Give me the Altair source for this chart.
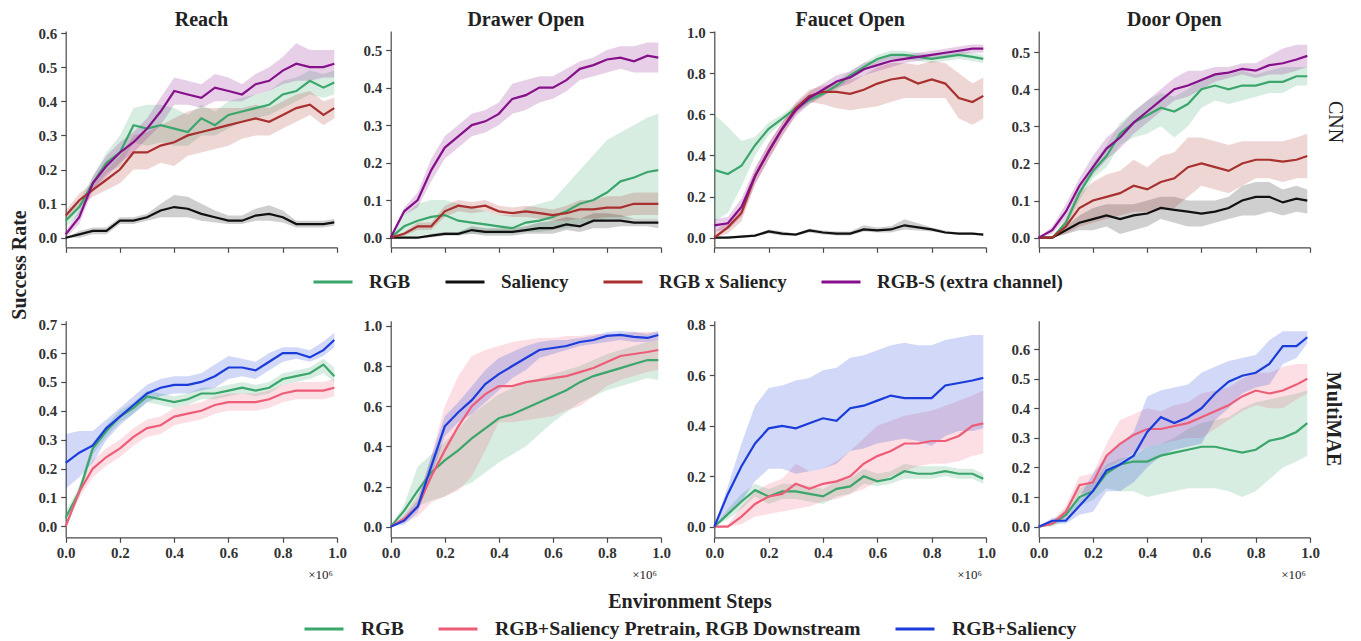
import altair as alt
import pandas as pd

# ---------------- data ----------------
X = [0.0, 0.05, 0.1, 0.15, 0.2, 0.25, 0.3, 0.35, 0.4, 0.45, 0.5,
     0.55, 0.6, 0.65, 0.7, 0.75, 0.8, 0.85, 0.9, 0.95, 0.99]

TASKS = ["Reach", "Drawer Open", "Faucet Open", "Door Open"]
ROWS = ["CNN", "MultiMAE"]
CNN_SERIES = ["RGB", "Saliency", "RGB x Saliency", "RGB-S (extra channel)"]
CNN_COLORS = ["#3BA66B", "#111111", "#A8302E", "#86108A"]
MAE_SERIES = ["RGB", "RGB+Saliency Pretrain, RGB Downstream", "RGB+Saliency"]
MAE_COLORS = ["#3BA66B", "#EE5D78", "#1B3CDB"]

X_TICKS = [0.0, 0.2, 0.4, 0.6, 0.8, 1.0]
TOP_YDOM = [[-0.028, 0.606], [-0.026, 0.551], [-0.047, 1.006], [-0.026, 0.557]]
BOT_YDOM = [[-0.038, 0.712], [-0.053, 1.026], [-0.042, 0.817], [-0.036, 0.696]]
TOP_TICKS = [[0.0, 0.1, 0.2, 0.3, 0.4, 0.5, 0.6], [0.0, 0.1, 0.2, 0.3, 0.4, 0.5],
             [0.0, 0.2, 0.4, 0.6, 0.8, 1.0], [0.0, 0.1, 0.2, 0.3, 0.4, 0.5]]
BOT_TICKS = [[0.0, 0.1, 0.2, 0.3, 0.4, 0.5, 0.6, 0.7], [0.0, 0.2, 0.4, 0.6, 0.8, 1.0],
             [0.0, 0.2, 0.4, 0.6, 0.8], [0.0, 0.1, 0.2, 0.3, 0.4, 0.5, 0.6]]

# --- CNN / Reach
cnn_reach_rgb = [.05, .09, .16, .22, .25, .33, .32, .33, .32, .31, .35, .33, .36, .37, .38, .39, .42, .43, .46, .44, .455]
cnn_reach_rgb_lo = [.03, .07, .14, .19, .21, .28, .27, .28, .27, .27, .30, .30, .32, .34, .35, .36, .38, .40, .42, .41, .42]
cnn_reach_rgb_hi = [.07, .11, .18, .25, .30, .38, .39, .39, .38, .36, .39, .37, .40, .41, .42, .43, .46, .47, .49, .48, .49]
cnn_reach_sal = [0, .01, .02, .02, .05, .05, .06, .08, .09, .085, .07, .06, .05, .05, .065, .07, .06, .04, .04, .04, .045]
cnn_reach_sal_lo = [0, 0, .01, .01, .04, .04, .05, .06, .06, .06, .05, .045, .04, .04, .05, .05, .045, .03, .03, .03, .035]
cnn_reach_sal_hi = [0, .02, .03, .03, .06, .06, .07, .10, .125, .12, .10, .08, .065, .065, .085, .095, .08, .05, .05, .05, .055]
cnn_reach_rxs = [.065, .11, .14, .17, .20, .25, .25, .27, .28, .30, .31, .32, .33, .34, .35, .34, .36, .38, .39, .36, .38]
cnn_reach_rxs_lo = [.05, .09, .12, .14, .16, .20, .20, .22, .21, .24, .25, .26, .27, .29, .30, .30, .32, .34, .36, .33, .35]
cnn_reach_rxs_hi = [.08, .13, .16, .20, .24, .30, .31, .33, .35, .37, .38, .38, .38, .38, .39, .38, .40, .42, .43, .40, .41]
cnn_reach_rgbs = [.01, .06, .16, .21, .25, .28, .32, .37, .43, .42, .41, .44, .43, .42, .45, .46, .49, .51, .50, .50, .51]
cnn_reach_rgbs_lo = [0, .04, .14, .18, .22, .25, .29, .33, .39, .39, .38, .40, .40, .40, .42, .43, .45, .46, .46, .47, .47]
cnn_reach_rgbs_hi = [.02, .08, .18, .24, .28, .31, .35, .41, .47, .46, .45, .48, .47, .45, .48, .50, .53, .57, .55, .55, .55]

# --- CNN / Drawer Open
cnn_drawer_rgb = [0, .03, .045, .055, .06, .045, .04, .035, .03, .025, .04, .045, .055, .07, .09, .10, .12, .15, .16, .175, .18]
cnn_drawer_rgb_lo = [0, 0, .005, .01, .01, .01, .01, .01, .01, .01, .015, .015, .02, .025, .03, .04, .05, .05, .05, .05, .05]
cnn_drawer_rgb_hi = [0, .06, .09, .10, .10, .09, .08, .07, .06, .06, .08, .09, .10, .14, .18, .22, .26, .28, .30, .32, .33]
cnn_drawer_sal = [0, 0, 0, .005, .01, .01, .02, .015, .015, .015, .02, .025, .025, .035, .03, .045, .045, .045, .04, .04, .04]
cnn_drawer_sal_lo = [0, 0, 0, 0, .005, .005, .01, .005, .005, .005, .01, .01, .01, .02, .015, .025, .025, .03, .03, .03, .025]
cnn_drawer_sal_hi = [0, 0, 0, .01, .015, .015, .03, .025, .025, .025, .03, .04, .045, .055, .05, .065, .065, .06, .05, .05, .05]
cnn_drawer_rxs = [0, .01, .03, .03, .07, .085, .08, .085, .07, .065, .07, .065, .06, .065, .075, .075, .08, .08, .09, .09, .09]
cnn_drawer_rxs_lo = [0, .005, .02, .02, .055, .07, .065, .07, .06, .055, .055, .05, .045, .045, .05, .05, .055, .055, .06, .06, .06]
cnn_drawer_rxs_hi = [0, .015, .04, .04, .085, .10, .095, .10, .085, .08, .085, .08, .075, .085, .10, .10, .11, .11, .12, .12, .12]
cnn_drawer_rgbs = [0, .07, .10, .18, .24, .27, .30, .31, .33, .37, .38, .40, .40, .42, .45, .46, .475, .48, .47, .485, .48]
cnn_drawer_rgbs_lo = [0, .06, .08, .15, .21, .24, .27, .28, .30, .33, .34, .36, .37, .39, .42, .43, .44, .45, .44, .44, .44]
cnn_drawer_rgbs_hi = [0, .08, .12, .21, .27, .30, .33, .34, .36, .41, .42, .43, .43, .45, .47, .48, .50, .51, .51, .52, .52]

# --- CNN / Faucet Open
cnn_faucet_rgb = [.33, .31, .35, .45, .53, .58, .63, .67, .70, .74, .79, .83, .87, .89, .89, .88, .87, .88, .89, .88, .87]
cnn_faucet_rgb_lo = [.08, .12, .25, .40, .50, .56, .61, .65, .69, .72, .77, .81, .85, .87, .87, .86, .85, .86, .87, .86, .85]
cnn_faucet_rgb_hi = [.60, .54, .47, .49, .56, .60, .65, .69, .72, .76, .81, .85, .89, .91, .91, .90, .89, .90, .91, .90, .89]
cnn_faucet_sal = [0, 0, .005, .01, .03, .02, .015, .035, .025, .02, .02, .04, .035, .04, .06, .05, .04, .025, .02, .02, .015]
cnn_faucet_sal_lo = [0, 0, 0, .005, .02, .01, .01, .025, .015, .01, .01, .03, .025, .025, .04, .035, .03, .02, .015, .015, .01]
cnn_faucet_sal_hi = [0, .005, .01, .015, .04, .03, .02, .045, .035, .03, .03, .06, .05, .055, .09, .07, .05, .035, .025, .025, .02]
cnn_faucet_rxs = [0, .05, .12, .30, .42, .53, .63, .69, .71, .71, .70, .72, .75, .77, .78, .75, .77, .75, .68, .66, .69]
cnn_faucet_rxs_lo = [0, .02, .08, .26, .38, .49, .60, .66, .65, .63, .62, .63, .64, .66, .68, .68, .68, .68, .58, .55, .58]
cnn_faucet_rxs_hi = [.03, .08, .16, .33, .46, .56, .66, .72, .74, .75, .77, .79, .83, .85, .85, .84, .86, .85, .80, .75, .78]
cnn_faucet_rgbs = [.06, .07, .15, .30, .42, .53, .62, .68, .72, .76, .78, .82, .84, .86, .87, .88, .89, .90, .91, .92, .92]
cnn_faucet_rgbs_lo = [.03, .04, .10, .26, .38, .50, .59, .65, .69, .73, .75, .79, .81, .83, .85, .86, .87, .88, .89, .90, .90]
cnn_faucet_rgbs_hi = [.09, .10, .19, .34, .46, .56, .65, .71, .75, .79, .81, .85, .87, .89, .89, .90, .91, .92, .93, .94, .94]

# --- CNN / Door Open
cnn_door_rgb = [0, 0, .04, .12, .18, .22, .28, .31, .33, .35, .34, .36, .40, .41, .40, .41, .41, .42, .42, .435, .435]
cnn_door_rgb_lo = [0, 0, .03, .10, .16, .19, .25, .27, .28, .30, .27, .30, .35, .37, .36, .37, .38, .39, .39, .41, .41]
cnn_door_rgb_hi = [0, 0, .05, .14, .20, .25, .31, .34, .37, .39, .38, .40, .43, .44, .44, .45, .44, .45, .46, .46, .46]
cnn_door_sal = [0, 0, .02, .04, .05, .06, .05, .06, .065, .08, .075, .07, .065, .07, .08, .10, .11, .11, .095, .105, .10]
cnn_door_sal_lo = [0, 0, .01, .02, .02, .03, .01, .02, .03, .05, .04, .03, .03, .04, .05, .06, .06, .07, .06, .07, .065]
cnn_door_sal_hi = [0, 0, .03, .06, .08, .09, .09, .09, .10, .11, .11, .10, .10, .10, .11, .14, .15, .15, .13, .14, .13]
cnn_door_rxs = [0, 0, .03, .08, .10, .11, .12, .14, .13, .15, .16, .19, .20, .19, .18, .20, .21, .21, .205, .21, .22]
cnn_door_rxs_lo = [0, 0, .01, .03, .04, .05, .06, .07, .07, .08, .08, .11, .14, .13, .12, .14, .16, .16, .15, .16, .16]
cnn_door_rxs_hi = [0, 0, .05, .12, .15, .17, .18, .21, .19, .22, .23, .27, .27, .26, .25, .26, .26, .26, .26, .27, .28]
cnn_door_rgbs = [0, .02, .07, .14, .19, .24, .27, .31, .34, .37, .40, .41, .425, .44, .445, .455, .45, .465, .47, .48, .49]
cnn_door_rgbs_lo = [0, .01, .05, .12, .17, .21, .24, .28, .31, .34, .37, .38, .40, .42, .43, .44, .43, .44, .44, .45, .46]
cnn_door_rgbs_hi = [0, .03, .09, .16, .22, .27, .30, .34, .37, .40, .43, .45, .45, .46, .46, .47, .47, .49, .51, .52, .52]

# --- MultiMAE / Reach
mae_reach_rgb = [.03, .12, .27, .33, .38, .41, .45, .44, .43, .44, .46, .46, .47, .48, .47, .48, .51, .52, .53, .56, .52]
mae_reach_rgb_lo = [.01, .10, .25, .31, .36, .39, .43, .42, .41, .42, .44, .44, .45, .46, .45, .46, .49, .50, .51, .53, .50]
mae_reach_rgb_hi = [.05, .14, .29, .35, .40, .43, .47, .46, .45, .46, .48, .48, .49, .50, .49, .50, .53, .54, .55, .58, .55]
mae_reach_pre = [0, .12, .20, .24, .27, .31, .34, .35, .38, .39, .40, .42, .43, .43, .43, .44, .46, .47, .47, .47, .48]
mae_reach_pre_lo = [0, .10, .17, .21, .24, .28, .31, .32, .35, .36, .37, .39, .40, .40, .40, .41, .43, .44, .44, .44, .45]
mae_reach_pre_hi = [0, .14, .23, .27, .30, .34, .37, .38, .41, .42, .43, .45, .46, .46, .46, .47, .49, .50, .50, .50, .51]
mae_reach_sal = [.22, .255, .28, .34, .38, .42, .46, .48, .49, .49, .50, .52, .55, .55, .54, .57, .60, .60, .585, .61, .645]
mae_reach_sal_lo = [.13, .17, .22, .30, .35, .39, .43, .45, .46, .46, .47, .48, .51, .52, .51, .54, .57, .58, .57, .59, .62]
mae_reach_sal_hi = [.32, .33, .33, .37, .41, .45, .49, .51, .52, .52, .53, .56, .59, .58, .57, .60, .62, .62, .61, .64, .67]

# --- MultiMAE / Drawer Open
mae_drawer_rgb = [0, .08, .18, .27, .33, .38, .44, .49, .54, .56, .59, .62, .65, .68, .72, .75, .77, .79, .81, .83, .83]
mae_drawer_rgb_lo = [0, .05, .10, .13, .15, .19, .22, .27, .32, .36, .40, .46, .52, .57, .62, .65, .68, .70, .72, .74, .73]
mae_drawer_rgb_hi = [0, .11, .30, .36, .42, .49, .56, .61, .66, .69, .72, .74, .76, .78, .80, .83, .86, .88, .90, .92, .93]
mae_drawer_pre = [0, .04, .10, .25, .38, .50, .60, .66, .70, .70, .72, .73, .74, .75, .77, .79, .82, .85, .86, .87, .88]
mae_drawer_pre_lo = [0, .02, .05, .12, .15, .18, .25, .38, .52, .52, .53, .54, .55, .58, .60, .65, .70, .73, .75, .77, .78]
mae_drawer_pre_hi = [0, .06, .15, .35, .60, .75, .85, .88, .90, .92, .93, .94, .94, .95, .95, .96, .96, .96, .97, .97, .97]
mae_drawer_sal = [0, .03, .10, .30, .50, .57, .63, .71, .76, .80, .84, .88, .89, .90, .92, .93, .95, .955, .945, .94, .955]
mae_drawer_sal_lo = [0, .01, .07, .25, .45, .52, .56, .62, .68, .74, .78, .84, .86, .88, .90, .91, .92, .93, .92, .92, .93]
mae_drawer_sal_hi = [0, .05, .13, .35, .55, .62, .70, .78, .84, .87, .90, .92, .93, .93, .94, .95, .97, .975, .97, .96, .975]

# --- MultiMAE / Faucet Open
mae_faucet_rgb = [0, .05, .10, .145, .12, .14, .14, .13, .12, .15, .16, .20, .18, .19, .22, .21, .21, .22, .21, .21, .19]
mae_faucet_rgb_lo = [0, .03, .07, .12, .09, .11, .11, .10, .09, .12, .13, .17, .16, .17, .19, .19, .19, .20, .19, .19, .17]
mae_faucet_rgb_hi = [0, .07, .13, .17, .15, .17, .17, .16, .15, .18, .19, .23, .21, .22, .25, .24, .24, .24, .23, .23, .21]
mae_faucet_pre = [0, 0, .04, .09, .12, .13, .17, .15, .17, .18, .20, .25, .28, .30, .33, .33, .34, .34, .36, .40, .41]
mae_faucet_pre_lo = [0, 0, .01, .04, .05, .06, .07, .08, .10, .11, .13, .15, .18, .20, .22, .24, .25, .25, .26, .28, .29]
mae_faucet_pre_hi = [0, .01, .08, .14, .17, .19, .25, .22, .23, .26, .30, .35, .40, .42, .44, .45, .46, .48, .50, .52, .54]
mae_faucet_sal = [0, .13, .24, .33, .39, .40, .39, .41, .43, .42, .47, .48, .50, .52, .51, .51, .51, .56, .57, .58, .59]
mae_faucet_sal_lo = [0, .05, .10, .18, .23, .23, .21, .22, .23, .25, .30, .31, .33, .34, .35, .34, .32, .36, .38, .38, .39]
mae_faucet_sal_hi = [0, .16, .33, .48, .55, .56, .58, .59, .62, .63, .67, .68, .70, .72, .73, .72, .72, .74, .75, .76, .76]

# --- MultiMAE / Door Open
mae_door_rgb = [0, .01, .04, .10, .12, .18, .21, .22, .22, .24, .25, .26, .27, .27, .26, .25, .26, .29, .30, .32, .35]
mae_door_rgb_lo = [0, 0, .02, .07, .09, .13, .12, .12, .10, .11, .12, .13, .13, .13, .12, .10, .12, .16, .20, .22, .24]
mae_door_rgb_hi = [0, .02, .06, .13, .15, .21, .23, .24, .27, .28, .30, .33, .35, .36, .37, .40, .42, .43, .44, .45, .46]
mae_door_pre = [0, .01, .05, .14, .15, .24, .28, .31, .33, .33, .34, .35, .37, .39, .41, .44, .46, .45, .46, .48, .50]
mae_door_pre_lo = [0, .005, .03, .11, .12, .20, .22, .25, .27, .28, .29, .30, .30, .33, .36, .39, .41, .40, .40, .43, .45]
mae_door_pre_hi = [0, .02, .07, .17, .18, .28, .36, .38, .40, .39, .41, .42, .45, .46, .47, .50, .52, .52, .54, .55, .55]
mae_door_sal = [0, .02, .02, .07, .12, .19, .21, .24, .32, .37, .35, .37, .40, .45, .49, .51, .52, .55, .61, .61, .64]
mae_door_sal_lo = [0, .01, .01, .04, .05, .12, .12, .15, .20, .24, .26, .27, .28, .36, .40, .45, .47, .48, .55, .57, .62]
mae_door_sal_hi = [0, .03, .03, .10, .18, .24, .28, .32, .44, .46, .47, .48, .52, .54, .56, .57, .58, .63, .66, .66, .66]

# ---------------- layout ----------------
W, H = 1345, 633
COL_X = [(57.7, 329.0), (382.7, 653.0), (706.3, 978.0), (1030.7, 1302.0)]
ROW_Y = [(239.3, 23.0), (529.3, 312.7)]
FONT = "Liberation Serif"
AX = "#4a4a4a"

ALL_SERIES = CNN_SERIES + MAE_SERIES[1:]
ALL_COLORS = CNN_COLORS + MAE_COLORS[1:]


def frame(names, trip):
    rows = []
    for name, (m, lo, hi) in zip(names, trip):
        for x, a, b, c in zip(X, m, lo, hi):
            rows.append({"x": x, "mean": a, "lo": b, "hi": c, "series": name})
    return pd.DataFrame(rows)


cnn_frames = [
    frame(CNN_SERIES, [(cnn_reach_rgb, cnn_reach_rgb_lo, cnn_reach_rgb_hi),
                       (cnn_reach_sal, cnn_reach_sal_lo, cnn_reach_sal_hi),
                       (cnn_reach_rxs, cnn_reach_rxs_lo, cnn_reach_rxs_hi),
                       (cnn_reach_rgbs, cnn_reach_rgbs_lo, cnn_reach_rgbs_hi)]),
    frame(CNN_SERIES, [(cnn_drawer_rgb, cnn_drawer_rgb_lo, cnn_drawer_rgb_hi),
                       (cnn_drawer_sal, cnn_drawer_sal_lo, cnn_drawer_sal_hi),
                       (cnn_drawer_rxs, cnn_drawer_rxs_lo, cnn_drawer_rxs_hi),
                       (cnn_drawer_rgbs, cnn_drawer_rgbs_lo, cnn_drawer_rgbs_hi)]),
    frame(CNN_SERIES, [(cnn_faucet_rgb, cnn_faucet_rgb_lo, cnn_faucet_rgb_hi),
                       (cnn_faucet_sal, cnn_faucet_sal_lo, cnn_faucet_sal_hi),
                       (cnn_faucet_rxs, cnn_faucet_rxs_lo, cnn_faucet_rxs_hi),
                       (cnn_faucet_rgbs, cnn_faucet_rgbs_lo, cnn_faucet_rgbs_hi)]),
    frame(CNN_SERIES, [(cnn_door_rgb, cnn_door_rgb_lo, cnn_door_rgb_hi),
                       (cnn_door_sal, cnn_door_sal_lo, cnn_door_sal_hi),
                       (cnn_door_rxs, cnn_door_rxs_lo, cnn_door_rxs_hi),
                       (cnn_door_rgbs, cnn_door_rgbs_lo, cnn_door_rgbs_hi)]),
]
mae_frames = [
    frame(MAE_SERIES, [(mae_reach_rgb, mae_reach_rgb_lo, mae_reach_rgb_hi),
                       (mae_reach_pre, mae_reach_pre_lo, mae_reach_pre_hi),
                       (mae_reach_sal, mae_reach_sal_lo, mae_reach_sal_hi)]),
    frame(MAE_SERIES, [(mae_drawer_rgb, mae_drawer_rgb_lo, mae_drawer_rgb_hi),
                       (mae_drawer_pre, mae_drawer_pre_lo, mae_drawer_pre_hi),
                       (mae_drawer_sal, mae_drawer_sal_lo, mae_drawer_sal_hi)]),
    frame(MAE_SERIES, [(mae_faucet_rgb, mae_faucet_rgb_lo, mae_faucet_rgb_hi),
                       (mae_faucet_pre, mae_faucet_pre_lo, mae_faucet_pre_hi),
                       (mae_faucet_sal, mae_faucet_sal_lo, mae_faucet_sal_hi)]),
    frame(MAE_SERIES, [(mae_door_rgb, mae_door_rgb_lo, mae_door_rgb_hi),
                       (mae_door_pre, mae_door_pre_lo, mae_door_pre_hi),
                       (mae_door_sal, mae_door_sal_lo, mae_door_sal_hi)]),
]


def make_legend(lx, ly, pad, offset, size):
    return alt.Legend(orient="none", legendX=lx, legendY=ly, direction="horizontal",
                      title=None, symbolType="stroke", symbolSize=1521,
                      symbolStrokeWidth=3, symbolOpacity=1, labelFont=FONT,
                      labelFontWeight="bold", labelFontSize=size, labelColor="#222222",
                      labelOffset=offset, columnPadding=pad, labelLimit=600)


TOP_LEGEND = make_legend(304, 253, 28, 15, 19)
BOT_LEGEND = make_legend(295, 600, 28, 16, 19.8)


def panel(df, row, xr, yr, ydom, yticks):
    xaxis = alt.Axis(orient="bottom", offset=yr[0] - H, values=X_TICKS, labels=(row == 1),
                     format=".1f", title=None, grid=False, domainColor=AX, domainWidth=1.2,
                     tickColor=AX, tickWidth=1.2, tickSize=5, labelFont=FONT,
                     labelFontWeight="bold", labelFontSize=15, labelColor="#333333",
                     labelPadding=3, labelFlush=False, labelOverlap=False)
    yaxis = alt.Axis(orient="left", offset=-xr[0], values=yticks, format=".1f", title=None,
                     grid=False, domainColor=AX, domainWidth=1.2, tickColor=AX, tickWidth=1.2,
                     tickSize=5, labelFont=FONT, labelFontWeight="bold", labelFontSize=15,
                     labelColor="#333333", labelPadding=4, labelOverlap=False)
    xs = alt.Scale(domain=[0, 1], range=list(xr), nice=False, zero=False)
    ys = alt.Scale(domain=ydom, range=list(yr), nice=False, zero=False)
    area = alt.Chart(df).mark_area(opacity=0.2).encode(
        x=alt.X("x:Q", scale=xs, axis=xaxis),
        y=alt.Y("lo:Q", scale=ys, axis=yaxis),
        y2="hi:Q",
        fill=alt.Fill("series:N", scale=alt.Scale(domain=ALL_SERIES, range=ALL_COLORS),
                      legend=None),
    )
    if row == 0:
        col = alt.Stroke("series:N", scale=alt.Scale(domain=CNN_SERIES, range=CNN_COLORS),
                         legend=TOP_LEGEND)
        line = alt.Chart(df).mark_line(strokeWidth=2.2).encode(
            x=alt.X("x:Q", scale=xs, axis=xaxis),
            y=alt.Y("mean:Q", scale=ys, axis=yaxis), stroke=col)
    else:
        col = alt.Color("series:N", scale=alt.Scale(domain=MAE_SERIES, range=MAE_COLORS),
                        legend=BOT_LEGEND)
        line = alt.Chart(df).mark_line(strokeWidth=2.2).encode(
            x=alt.X("x:Q", scale=xs, axis=xaxis),
            y=alt.Y("mean:Q", scale=ys, axis=yaxis), color=col)
    return alt.layer(area, line)


panels = []
for i in range(4):
    panels.append(panel(cnn_frames[i], 0, COL_X[i], ROW_Y[0], TOP_YDOM[i], TOP_TICKS[i]))
for i in range(4):
    panels.append(panel(mae_frames[i], 1, COL_X[i], ROW_Y[1], BOT_YDOM[i], BOT_TICKS[i]))


def label(text, x, y, size, weight="bold", angle=0, align="center", baseline="middle"):
    return alt.Chart(pd.DataFrame({"t": [text]})).mark_text(
        font=FONT, fontSize=size, fontWeight=weight, angle=angle, align=align,
        baseline=baseline, color="#222222").encode(
        text="t:N", x=alt.value(x), y=alt.value(y))


texts = []
for i, t in enumerate(TASKS):
    cx = (COL_X[i][0] + COL_X[i][1]) / 2
    texts.append(label(t, cx, 18, 20, baseline="alphabetic"))
for i in range(4):
    texts.append(label("×10⁶", COL_X[i][1] - 4, 567, 13, weight="normal", align="right"))
texts.append(label(ROWS[0], 1327, 114, 20, weight="normal", angle=90))
texts.append(label(ROWS[1], 1325, 411, 20, angle=90))
texts.append(label("Success Rate", 12, 257, 20, angle=270))
texts.append(label("Environment Steps", 682, 594, 20))

chart = alt.layer(*panels, *texts).resolve_scale(
    x="independent", y="independent"
).properties(
    width=W, height=H, autosize=alt.AutoSizeParams(type="none"), padding=0
).configure_view(stroke=None)

chart.save("out.html", embed_options={"renderer": "svg", "actions": False})
